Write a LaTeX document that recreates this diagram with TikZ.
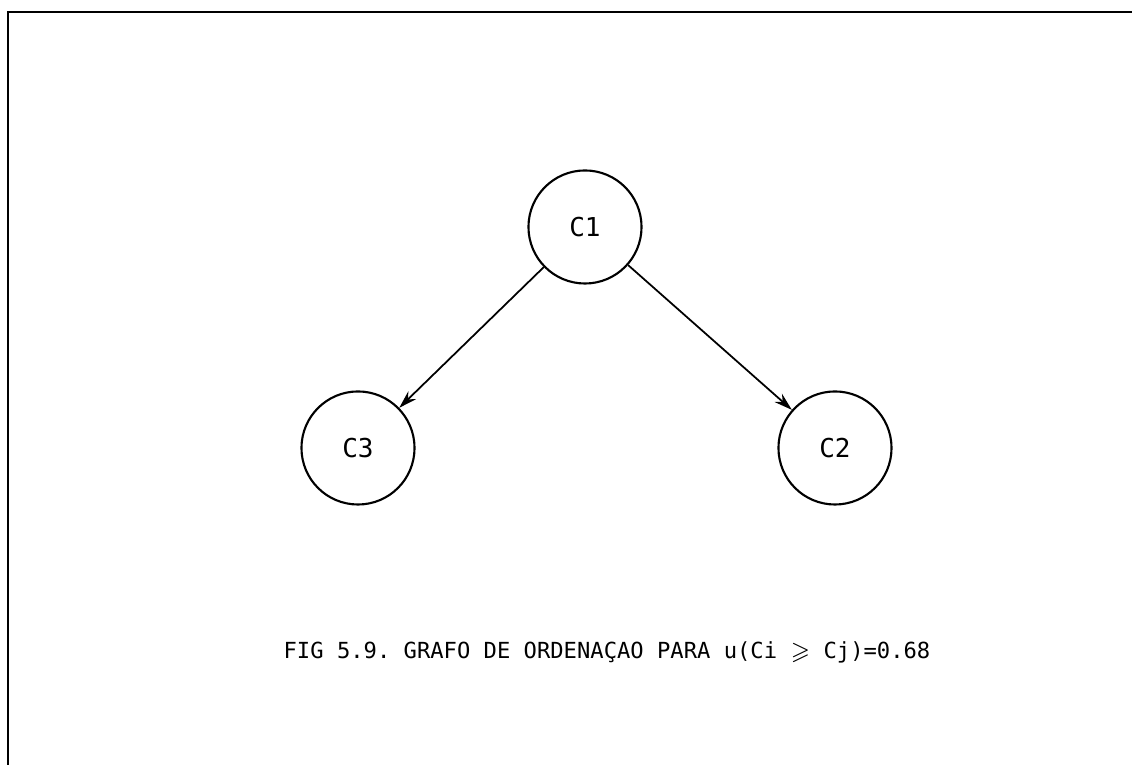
\documentclass[tikz,border=0pt]{standalone}
\usepackage{fontspec}
\usepackage{amssymb}
\setmonofont{DejaVu Sans Mono}
\usetikzlibrary{arrows.meta}
\begin{document}
\begin{tikzpicture}[x=0.01cm,y=-0.01cm,
  state/.style={circle,draw,line width=0.6pt,minimum size=1.13cm,inner sep=0pt,font=\ttfamily\fontsize{7.4}{8}\selectfont},
  edge/.style={draw,line width=0.5pt,-{Stealth[length=1.8mm,width=1.1mm]}},
  frameline/.style={draw,line width=0.6pt},
  caption/.style={font=\ttfamily\fontsize{6.3}{8}\selectfont,inner sep=0pt}]
\useasboundingbox (0,0) rectangle (1132,765);
\coordinate (tr) at (1132,12);
\coordinate (tl) at (8,12);
\coordinate (bl) at (8,765);
\path[frameline] (tr) -- (tl) -- (bl);
\node[state] (c1) at (585,227) {C1};
\node[state] (c3) at (358,448) {C3};
\node[state] (c2) at (835,448) {C2};
\path[edge] (c1) -- (c3);
\path[edge] (c1) -- (c2);
\node[caption] (cap) at (607,652) {FIG 5.9. GRAFO DE ORDENAÇAO PARA u(Ci $\geqslant$ Cj)=0.68};
\end{tikzpicture}
\end{document}
